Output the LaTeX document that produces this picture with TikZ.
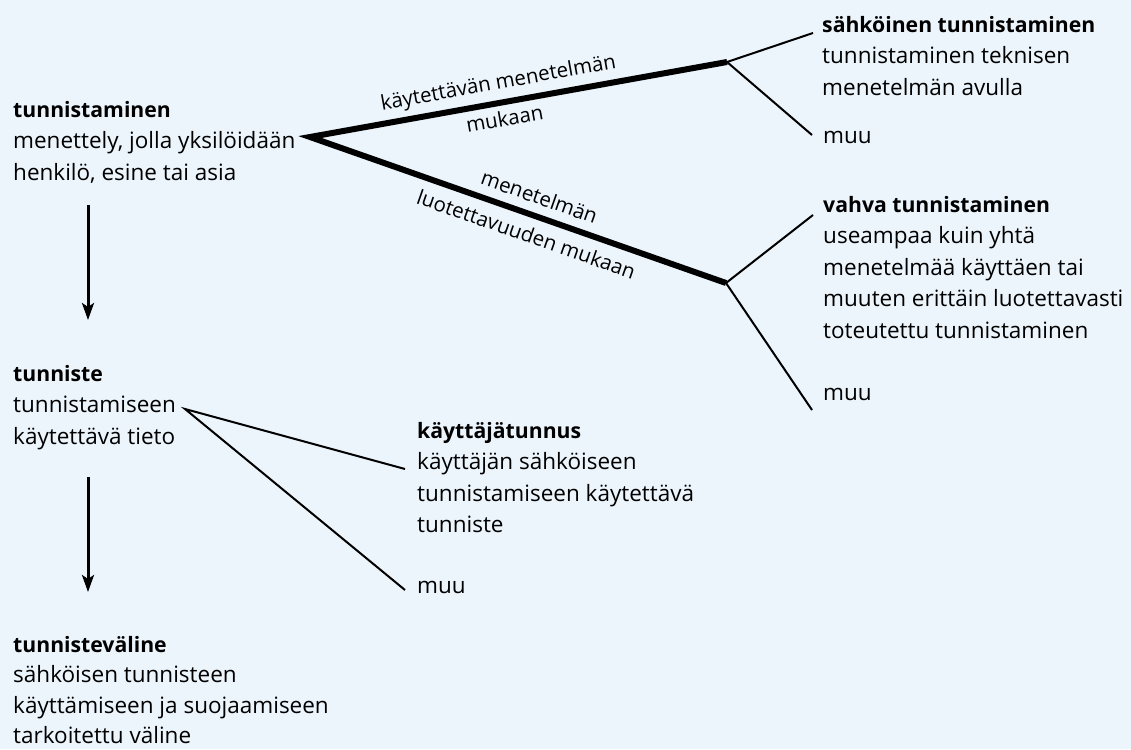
\documentclass[tikz,border=0pt]{standalone}
\usepackage{fontspec}
\setmainfont{Open Sans}
\usetikzlibrary{arrows.meta,calc}
\definecolor{bg}{RGB}{237,245,252}
\tikzset{
 txt/.style={anchor=north west, inner sep=0pt, align=left, font=\fontsize{22.5}{31.5}\selectfont},
 lbl/.style={inner sep=0pt, font=\fontsize{20.5}{25}\selectfont, sloped, anchor=base},
 thickline/.style={line width=6pt, line join=miter},
 thinline/.style={line width=2pt, line join=miter},
 arr/.style={line width=3pt, -{Stealth[length=17pt,width=12pt,inset=4pt]}},
}
\newcommand\hd[1]{{\fontsize{21.2}{31.5}\selectfont\bfseries #1}}
\begin{document}
\begin{tikzpicture}[x=1pt,y=-1pt]
\fill[bg] (0,0) rectangle (1131,749);
\useasboundingbox (0,0) rectangle (1131,749);
% text blocks (north west = first baseline - 22.05)
\node[txt] (a) at (13,95) {\strut\hd{tunnistaminen}\\menettely, jolla yksilöidään\\henkilö, esine tai asia};
\node[txt] (d) at (13,359) {\strut\hd{tunniste}\\tunnistamiseen\\käytettävä tieto};
\node[txt, font=\fontsize{22.5}{30.6}\selectfont] (f) at (13,630.5) {\strut\hd{tunnisteväline}\\sähköisen tunnisteen\\käyttämiseen ja suojaamiseen\\tarkoitettu väline};
\node[txt] (b) at (822,10) {\strut\hd{sähköinen tunnistaminen}\\tunnistaminen teknisen\\menetelmän avulla};
\node[txt] (m1) at (823,121) {\strut muu};
\node[txt] (c) at (823,190) {\strut\hd{vahva tunnistaminen}\\useampaa kuin yhtä\\menetelmää käyttäen tai\\muuten erittäin luotettavasti\\toteutettu tunnistaminen};
\node[txt] (m2) at (823,378) {\strut muu};
\node[txt] (e) at (417,416) {\strut\hd{käyttäjätunnus}\\käyttäjän sähköiseen\\tunnistamiseen käytettävä\\tunniste};
\node[txt] (m3) at (417,571) {\strut muu};
% junction coordinates
\coordinate (apex) at (310,137);
\coordinate (j1) at (727,62);
\coordinate (j2) at (726,283);
\coordinate (e1) at (813,33);
\coordinate (e2) at (812,135);
\coordinate (e3) at (813,215);
\coordinate (e4) at (812,410);
\coordinate (k0) at (185,409);
\coordinate (k1) at (405,469);
\coordinate (k2) at (405,590);
\coordinate (r1) at (88,205);
\coordinate (r2) at (88,320);
\coordinate (r3) at (88,477);
\coordinate (r4) at (88,592);
% thick branches
\draw[thickline] (j1) -- (apex) -- (j2);
\path (apex) -- node[lbl, pos=.46, yshift=13.6pt] {käytettävän menetelmän}
                node[lbl, pos=.46, yshift=-23.6pt] {mukaan} (j1);
\path (apex) -- node[lbl, pos=.536, yshift=12pt] {menetelmän}
                node[lbl, pos=.536, yshift=-27.5pt] {luotettavuuden mukaan} (j2);
% thin branches
\draw[thinline] (e1) -- (j1) -- (e2);
\draw[thinline] (e3) -- (j2) -- (e4);
\draw[thinline] (k1) -- (k0) -- (k2);
% arrows
\draw[arr] (r1) -- (r2);
\draw[arr] (r3) -- (r4);
\end{tikzpicture}
\end{document}
